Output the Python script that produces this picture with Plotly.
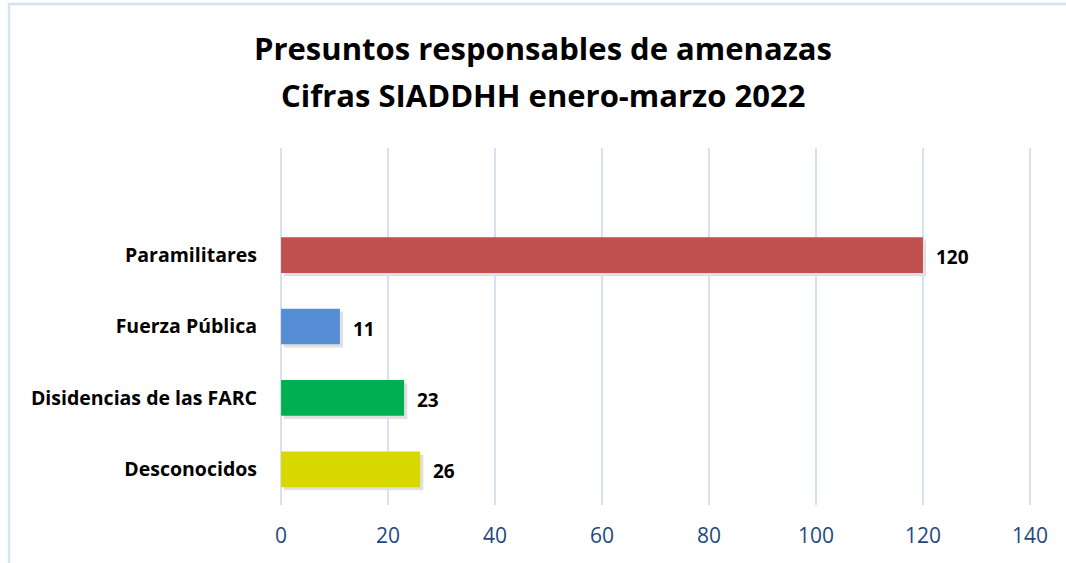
import plotly.graph_objects as go

categories = ["Desconocidos", "Disidencias de las FARC", "Fuerza Pública", "Paramilitares"]
values = [26, 23, 11, 120]
colors = ["#d6d800", "#00b050", "#558ed5", "#c0504d"]
tick_vals = [0, 20, 40, 60, 80, 100, 120, 140]
title_lines = ["Presuntos responsables de amenazas", "Cifras SIADDHH enero-marzo 2022"]

W, H = 1066, 563
L, R, T, B = 280, 35, 148, 58
pw = W - L - R
ph = H - T - B
FONT = "Open Sans, Lato, sans-serif"


def py(p):  # page pixel y -> paper y
    return 1 + (T - p) / ph


def px(p):  # page pixel x -> paper x
    return (p - L) / pw


fig = go.Figure()

shapes = []
for i, v in enumerate(values):
    shapes.append(dict(type="rect", xref="x", yref="y", x0=0.5, x1=v + 0.6,
                       y0=i - 0.25 - 0.045, y1=i + 0.25 - 0.045,
                       fillcolor="rgba(0,0,0,0.12)", line=dict(width=0), layer="below"))

fig.add_trace(go.Bar(
    y=list(range(len(categories))), x=values, orientation="h",
    marker=dict(color=colors, line=dict(width=0)),
    width=0.5, hoverinfo="skip",
))

annotations = []
for i, v in enumerate(values):
    annotations.append(dict(x=v, y=i, xref="x", yref="y", text="<b>%d</b>" % v,
                            showarrow=False, xanchor="left", yanchor="middle", xshift=11, yshift=-2,
                            font=dict(family=FONT, size=19, color="#000000")))

for k, (line, yc) in enumerate(zip(title_lines, [48, 95])):
    annotations.append(dict(x=px(543), y=py(yc), xref="paper", yref="paper", text="<b>%s</b>" % line,
                            showarrow=False, xanchor="center", yanchor="middle",
                            font=dict(family=FONT, size=31, color="#000000")))

shapes.append(dict(type="rect", xref="paper", yref="paper",
                   x0=px(9), x1=px(W + 10), y0=py(H + 10), y1=py(4),
                   line=dict(color="#d6e1f2", width=2.5), fillcolor="rgba(0,0,0,0)", layer="below"))

fig.update_layout(
    width=W, height=H,
    margin=dict(l=L, r=R, t=T, b=B, autoexpand=False),
    paper_bgcolor="white", plot_bgcolor="white",
    showlegend=False,
    xaxis=dict(range=[-0.2, 140.2], tickvals=tick_vals, showgrid=True, gridcolor="#d6e2f2", gridwidth=2,
               zeroline=False, showline=False, ticks="", automargin=False, ticklabelstandoff=16,
               tickfont=dict(family=FONT, size=21, color="#1f497d")),
    yaxis=dict(range=[-0.5, 4.5], tickvals=list(range(len(categories))), ticktext=categories,
               showgrid=False, zeroline=False, showline=False, ticks="", ticklabelstandoff=22,
               automargin=False,
               tickfont=dict(family=FONT, size=19.5, color="#000000", weight="bold")),
    shapes=shapes,
    annotations=annotations,
)

fig.write_html("out.html", config={"displayModeBar": False},
               post_script="document.body.style.margin='0';document.body.style.overflow='hidden';")
